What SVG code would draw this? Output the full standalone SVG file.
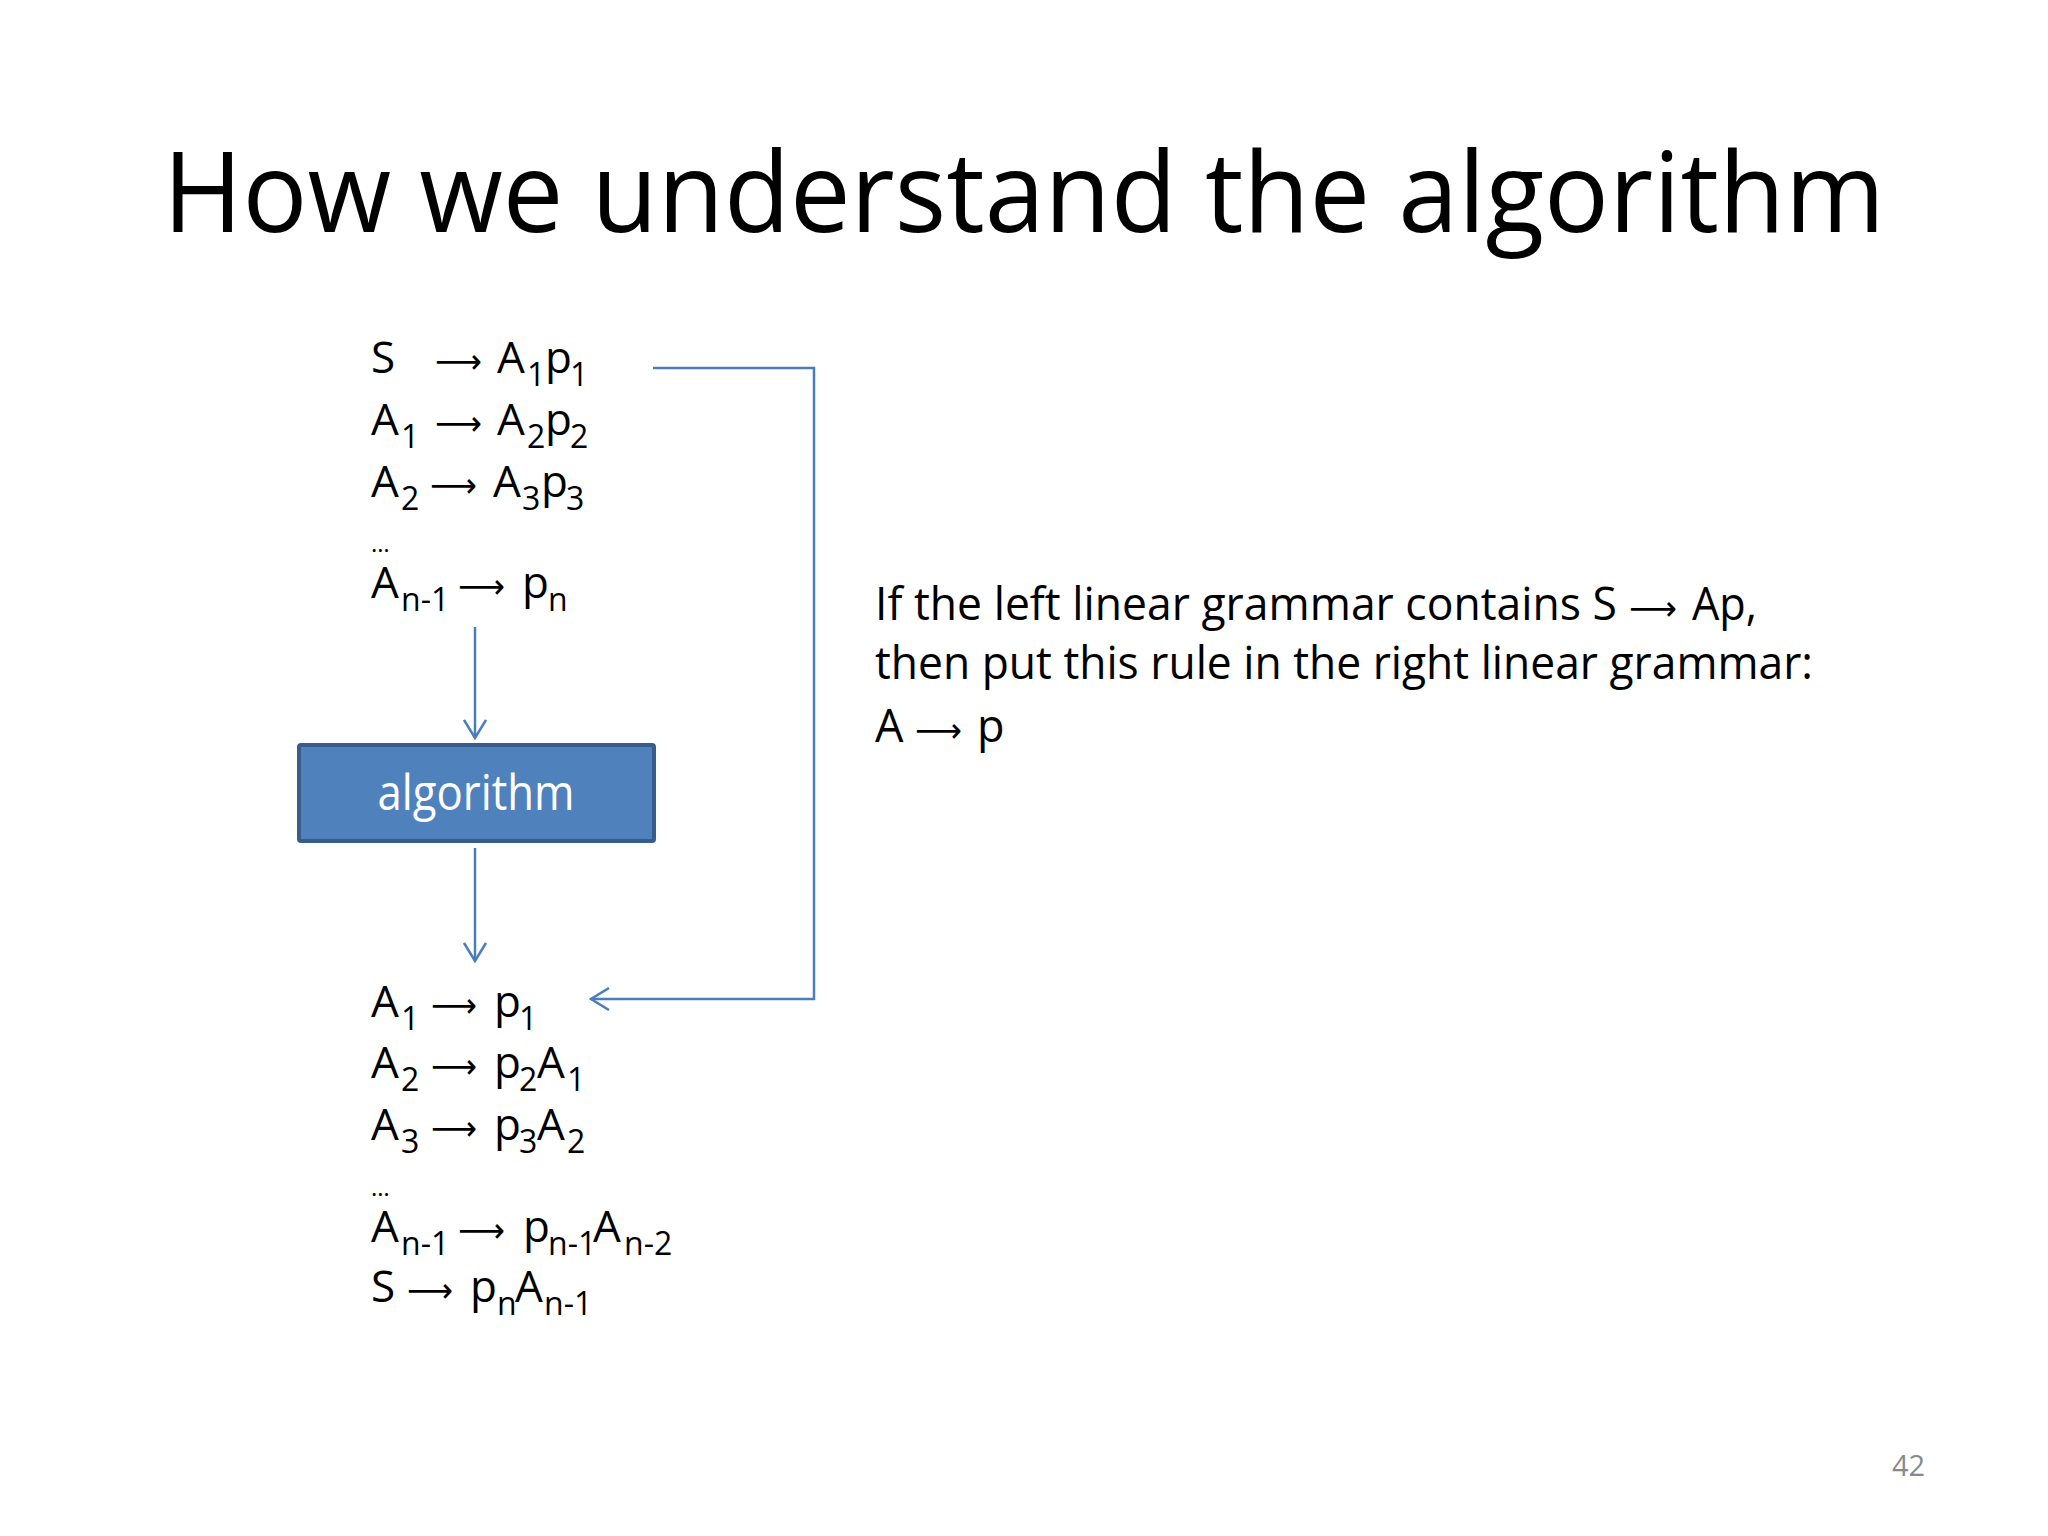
<svg xmlns="http://www.w3.org/2000/svg" width="2048" height="1536" viewBox="0 0 2048 1536">
<defs>
<style>
.t{font-family:"Open Sans","Noto Sans",sans-serif;fill:#000;}
.m{font-size:44px;}
.s{font-size:32px;}
.ar{font-family:"DejaVu Sans",sans-serif;font-size:34px;fill:#000;}
.conn{fill:none;stroke:#4A7EBB;stroke-width:2.5;}
</style>
<marker id="open" viewBox="0 0 22 24" refX="20" refY="12" markerWidth="22" markerHeight="24" markerUnits="userSpaceOnUse" orient="auto">
<path d="M2,1 L20,12 L2,23" fill="none" stroke="#4A7EBB" stroke-width="2.5"/>
</marker>
</defs>
<rect width="2048" height="1536" fill="#fff"/>

<g id="title">
<text class="t" x="163" y="232" font-size="112" textLength="1722" lengthAdjust="spacingAndGlyphs">How we understand the algorithm</text>
</g>

<g id="left-grammar">
<text class="t m" y="373"><tspan x="371">S</tspan><tspan x="497">A</tspan><tspan class="s" x="527" dy="13">1</tspan><tspan x="545" dy="-13">p</tspan><tspan class="s" x="570" dy="13">1</tspan></text>
<text class="ar" x="435" y="373" textLength="47" lengthAdjust="spacingAndGlyphs">⟶</text>
<text class="t m" y="435"><tspan x="371">A</tspan><tspan class="s" x="401" dy="13">1</tspan><tspan x="497" dy="-13">A</tspan><tspan class="s" x="527" dy="13">2</tspan><tspan x="545" dy="-13">p</tspan><tspan class="s" x="570" dy="13">2</tspan></text>
<text class="ar" x="435" y="435" textLength="47" lengthAdjust="spacingAndGlyphs">⟶</text>
<text class="t m" y="497"><tspan x="371">A</tspan><tspan class="s" x="401" dy="13">2</tspan><tspan x="493" dy="-13">A</tspan><tspan class="s" x="522" dy="13">3</tspan><tspan x="541" dy="-13">p</tspan><tspan class="s" x="566" dy="13">3</tspan></text>
<text class="ar" x="430" y="497" textLength="47" lengthAdjust="spacingAndGlyphs">⟶</text>
<text class="t" x="371" y="552" font-size="24">…</text>
<text class="t m" y="598"><tspan x="371">A</tspan><tspan class="s" x="401" dy="13">n-1</tspan><tspan x="522" dy="-13">p</tspan><tspan class="s" x="548" dy="13">n</tspan></text>
<text class="ar" x="458" y="598" textLength="47" lengthAdjust="spacingAndGlyphs">⟶</text>
</g>

<g id="algorithm">
<rect x="299" y="745" width="355" height="96" rx="2" fill="#4F81BD" stroke="#385D8A" stroke-width="4"/>
<text x="476" y="810" text-anchor="middle" font-family="Open Sans, Noto Sans, sans-serif" font-size="50" fill="#fff" textLength="197" lengthAdjust="spacingAndGlyphs">algorithm</text>
</g>

<g id="right-grammar">
<text class="t m" y="1017"><tspan x="371">A</tspan><tspan class="s" x="401" dy="13">1</tspan><tspan x="494" dy="-13">p</tspan><tspan class="s" x="519" dy="13">1</tspan></text>
<text class="ar" x="431" y="1017" textLength="46" lengthAdjust="spacingAndGlyphs">⟶</text>
<text class="t m" y="1078"><tspan x="371">A</tspan><tspan class="s" x="401" dy="13">2</tspan><tspan x="494" dy="-13">p</tspan><tspan class="s" x="519" dy="13">2</tspan><tspan x="537" dy="-13">A</tspan><tspan class="s" x="567" dy="13">1</tspan></text>
<text class="ar" x="431" y="1078" textLength="46" lengthAdjust="spacingAndGlyphs">⟶</text>
<text class="t m" y="1140"><tspan x="371">A</tspan><tspan class="s" x="401" dy="13">3</tspan><tspan x="494" dy="-13">p</tspan><tspan class="s" x="519" dy="13">3</tspan><tspan x="537" dy="-13">A</tspan><tspan class="s" x="567" dy="13">2</tspan></text>
<text class="ar" x="431" y="1140" textLength="46" lengthAdjust="spacingAndGlyphs">⟶</text>
<text class="t" x="371" y="1196" font-size="24">…</text>
<text class="t m" y="1242"><tspan x="371">A</tspan><tspan class="s" x="401" dy="13">n-1</tspan><tspan x="523" dy="-13">p</tspan><tspan class="s" x="548" dy="13">n-1</tspan><tspan x="593" dy="-13">A</tspan><tspan class="s" x="624" dy="13">n-2</tspan></text>
<text class="ar" x="458" y="1242" textLength="47" lengthAdjust="spacingAndGlyphs">⟶</text>
<text class="t m" y="1302"><tspan x="371">S</tspan><tspan x="470">p</tspan><tspan class="s" x="497" dy="13">n</tspan><tspan x="515" dy="-13">A</tspan><tspan class="s" x="544" dy="13">n-1</tspan></text>
<text class="ar" x="407" y="1302" textLength="46" lengthAdjust="spacingAndGlyphs">⟶</text>
</g>

<g id="note">
<text class="t" font-size="45" x="875" y="620" textLength="742" lengthAdjust="spacingAndGlyphs">If the left linear grammar contains S</text>
<text class="ar" x="1629" y="620" textLength="48" lengthAdjust="spacingAndGlyphs">⟶</text>
<text class="t" font-size="45" x="1692" y="620" textLength="65" lengthAdjust="spacingAndGlyphs">Ap,</text>
<text class="t" font-size="45" x="875" y="679" textLength="938" lengthAdjust="spacingAndGlyphs">then put this rule in the right linear grammar:</text>
<text class="t" font-size="45" y="742"><tspan x="875">A</tspan><tspan x="977">p</tspan></text>
<text class="ar" x="915" y="742" textLength="47" lengthAdjust="spacingAndGlyphs">⟶</text>
</g>

<g id="page-number">
<text x="1892" y="1476" font-family="Open Sans, Noto Sans, sans-serif" font-size="29" fill="#898989">42</text>
</g>

<g id="connectors">
<line class="conn" x1="475" y1="627" x2="475" y2="738" marker-end="url(#open)"/>
<line class="conn" x1="475" y1="848" x2="475" y2="961" marker-end="url(#open)"/>
<path class="conn" d="M653,368 H814 V999 H591" marker-end="url(#open)"/>
</g>
</svg>
